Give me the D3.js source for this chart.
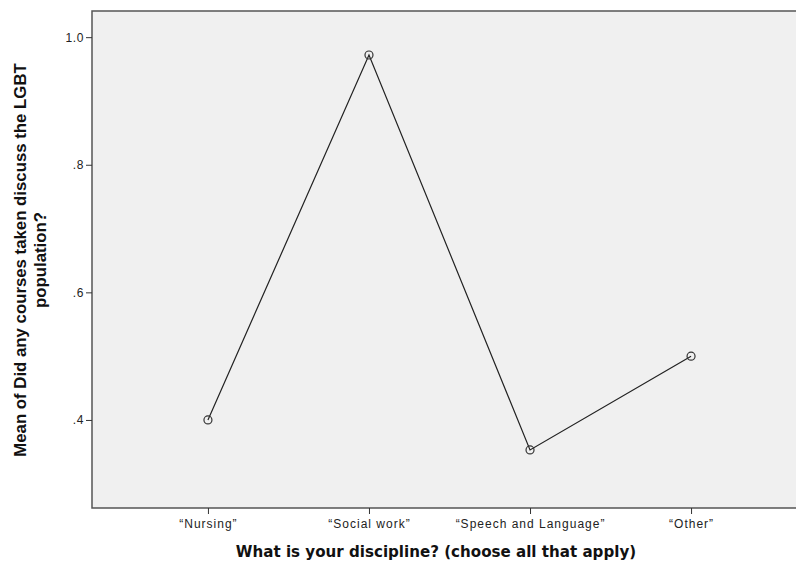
<!DOCTYPE html>
<html><head><meta charset="utf-8">
<script src="https://cdn.jsdelivr.net/npm/d3@7"></script>
<style>body{margin:0;background:#fff}svg{display:block}</style>
</head><body>
<svg id="c" width="796" height="564"></svg>
<script>
const categories = ["\u201cNursing\u201d", "\u201cSocial work\u201d", "\u201cSpeech and Language\u201d", "\u201cOther\u201d"];
const means = [0.40, 0.972, 0.353, 0.50];
const yTicks = [0.4, 0.6, 0.8, 1.0];
const yTickLabels = [".4", ".6", ".8", "1.0"];

const svg = d3.select("#c");
const L = 92, T = 11, R = 807, B = 508;
const x = d3.scalePoint().domain(categories).range([L, R]).padding(0.72);
const y = d3.scaleLinear().domain([0.262, 1.041]).range([B, T]);

svg.append("rect").attr("x", L).attr("y", T).attr("width", R - L).attr("height", B - T)
  .attr("fill", "#f0f0f0").attr("stroke", "#555").attr("stroke-width", 1.5);

const yAxis = d3.axisLeft(y).tickValues(yTicks).tickSize(6).tickPadding(2)
  .tickFormat((d, i) => yTickLabels[i]);
const gy = svg.append("g").attr("transform", `translate(${L},0)`).call(yAxis);
gy.select(".domain").remove();
gy.selectAll(".tick line").attr("stroke", "#333");
gy.selectAll(".tick text").attr("font-family", "Liberation Sans, Arial, sans-serif").attr("font-size", 12)
  .attr("letter-spacing", 0.6).attr("fill", "#222");

const xAxis = d3.axisBottom(x).tickSize(6).tickPadding(5);
const gx = svg.append("g").attr("transform", `translate(0,${B})`).call(xAxis);
gx.select(".domain").remove();
gx.selectAll(".tick line").attr("stroke", "#333");
gx.selectAll(".tick text").attr("font-family", "Liberation Sans, Arial, sans-serif").attr("font-size", 12)
  .attr("letter-spacing", 1).attr("fill", "#222");

const data = categories.map((c, i) => ({c, v: means[i]}));
svg.append("path").datum(data)
  .attr("d", d3.line().x(d => x(d.c)).y(d => y(d.v)))
  .attr("fill", "none").attr("stroke", "#222").attr("stroke-width", 1.2);
svg.selectAll("circle.pt").data(data).join("circle").attr("class", "pt")
  .attr("cx", d => x(d.c)).attr("cy", d => y(d.v)).attr("r", 4)
  .attr("fill", "none").attr("stroke", "#333").attr("stroke-width", 1.2);

svg.append("text").attr("x", 436).attr("y", 557).attr("text-anchor", "middle")
  .attr("font-family", "DejaVu Sans, sans-serif").attr("font-weight", "bold").attr("font-size", 15.1)
  .attr("fill", "#111").text("What is your discipline? (choose all that apply)");

const yt = svg.append("text").attr("transform", "translate(26,260) rotate(-90)").attr("text-anchor", "middle")
  .attr("font-family", "Liberation Sans, Arial, sans-serif").attr("font-weight", "bold").attr("font-size", 16.8).attr("fill", "#111");
yt.append("tspan").attr("x", 0).attr("dy", 0).text("Mean of Did any courses taken discuss the LGBT");
yt.append("tspan").attr("x", 0).attr("dy", 20).text("population?");
</script>
</body></html>
